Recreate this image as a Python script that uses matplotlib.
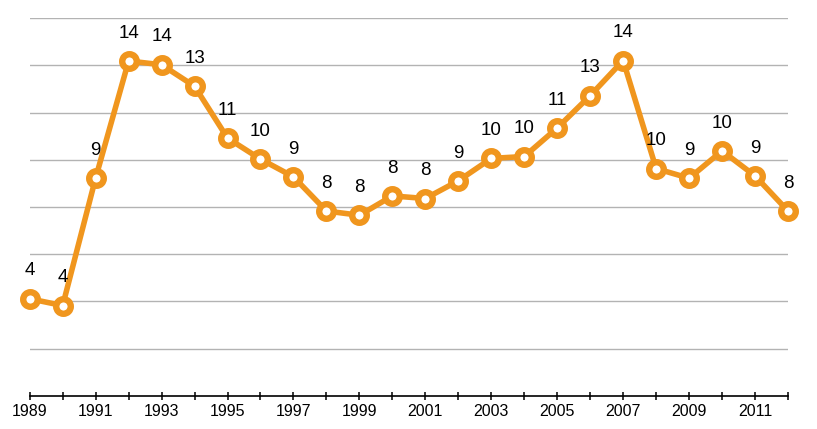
import matplotlib
matplotlib.use("Agg")
import matplotlib.pyplot as plt

# data
years = list(range(1989, 2013))
values = [4.11, 3.82, 9.23, 14.19, 14.03, 13.12, 10.92, 10.03, 9.28, 7.83,
          7.65, 8.47, 8.36, 9.11, 10.06, 10.14, 11.35, 12.72, 14.21, 9.63,
          9.22, 10.38, 9.32, 7.83]
tick_labels = [str(y) if (y - 1989) % 2 == 0 else "" for y in years]

orange = "#F0961E"
plt.rcParams["font.family"] = ["Liberation Sans", "DejaVu Sans"]

fig = plt.figure(figsize=(8.17, 4.29), dpi=100)
ax = fig.add_axes([29.7 / 817, 33.3 / 429, (788 - 29.7) / 817, (395.7 - 18.3) / 429])

ax.set_xlim(years[0], years[-1])
ax.set_ylim(0, 16)

# horizontal gridlines
for g in range(2, 17, 2):
    ax.axhline(g, color="#B3B3B3", linewidth=1, zorder=1)

ax.plot(years, values, color=orange, linewidth=4, marker="o",
        markersize=10.5, markeredgewidth=4.6, markerfacecolor="white",
        markeredgecolor=orange, clip_on=False, zorder=3)

for x, v in zip(years, values):
    ax.annotate(f"{v:.0f}", (x, v), xytext=(0, 20), textcoords="offset points",
                ha="center", va="center", fontsize=13.5, color="black",
                annotation_clip=False)

for s in ["left", "right", "top"]:
    ax.spines[s].set_visible(False)
ax.spines["bottom"].set_color("black")
ax.spines["bottom"].set_linewidth(1.2)

ax.set_yticks([])
ax.set_xticks(years)
ax.set_xticklabels(tick_labels)
ax.tick_params(axis="x", direction="inout", length=6, width=1.1,
               labelsize=11.5, pad=3, colors="black")

fig.savefig("out.png", dpi=100)
